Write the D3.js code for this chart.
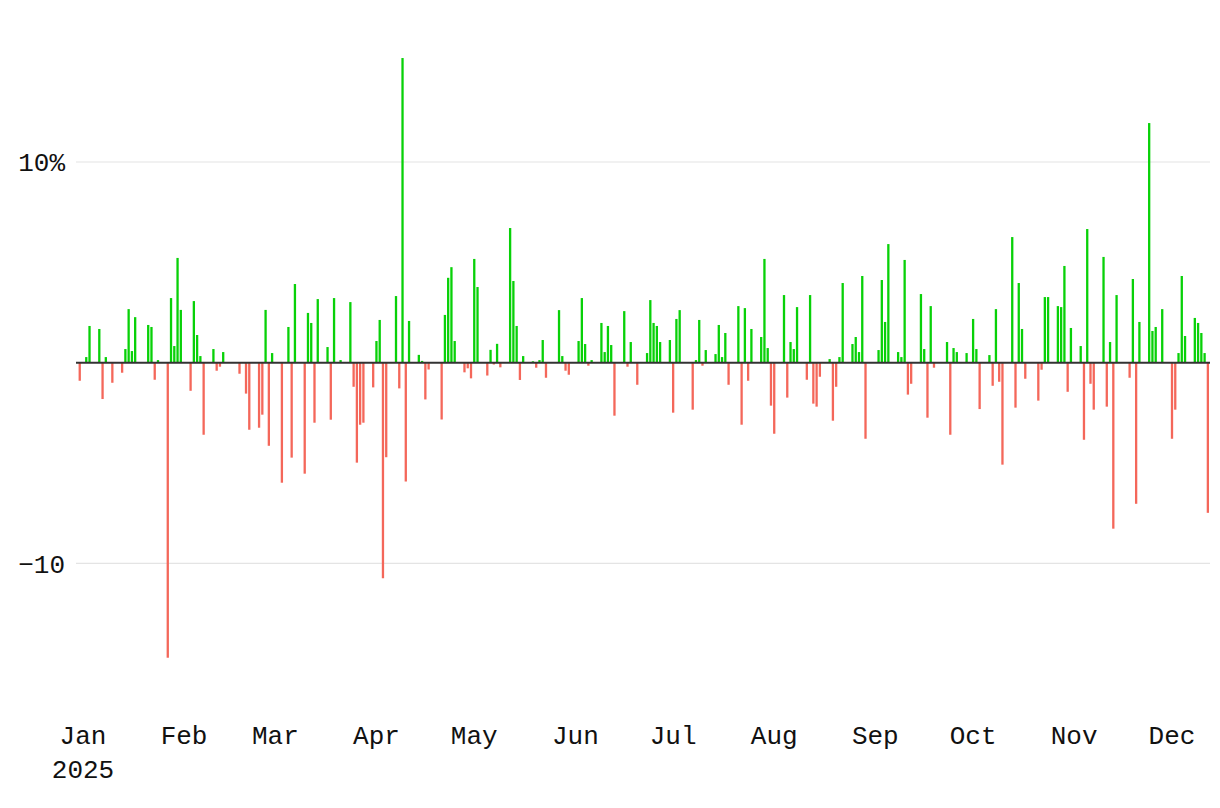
<!DOCTYPE html>
<html>
<head>
<meta charset="utf-8">
<script src="https://cdn.jsdelivr.net/npm/d3@7"></script>
<style>
  html, body { margin: 0; padding: 0; background: #ffffff; }
  svg { display: block; }
  text { font-family: "Liberation Mono", "DejaVu Sans Mono", monospace; fill: #111; }
</style>
</head>
<body>
<div id="chart"></div>
<script>
// ---- data ----
const dates = [
"2024-12-31","2025-01-02","2025-01-03","2025-01-06","2025-01-07","2025-01-08","2025-01-10",
"2025-01-13","2025-01-14","2025-01-15","2025-01-16","2025-01-17","2025-01-21","2025-01-22",
"2025-01-23","2025-01-24","2025-01-27","2025-01-28","2025-01-29","2025-01-30","2025-01-31",
"2025-02-03","2025-02-04","2025-02-05","2025-02-06","2025-02-07","2025-02-10","2025-02-11",
"2025-02-12","2025-02-13","2025-02-14","2025-02-18","2025-02-19","2025-02-20","2025-02-21",
"2025-02-24","2025-02-25","2025-02-26","2025-02-27","2025-02-28","2025-03-03","2025-03-04",
"2025-03-05","2025-03-06","2025-03-07","2025-03-10","2025-03-11","2025-03-12","2025-03-13",
"2025-03-14","2025-03-17","2025-03-18","2025-03-19","2025-03-20","2025-03-21","2025-03-24",
"2025-03-25","2025-03-26","2025-03-27","2025-03-28","2025-03-31","2025-04-01","2025-04-02",
"2025-04-03","2025-04-04","2025-04-07","2025-04-08","2025-04-09","2025-04-10","2025-04-11",
"2025-04-14","2025-04-15","2025-04-16","2025-04-17","2025-04-21","2025-04-22","2025-04-23",
"2025-04-24","2025-04-25","2025-04-28","2025-04-29","2025-04-30","2025-05-01","2025-05-02",
"2025-05-05","2025-05-06","2025-05-07","2025-05-08","2025-05-09","2025-05-12","2025-05-13",
"2025-05-14","2025-05-15","2025-05-16","2025-05-19","2025-05-20","2025-05-21","2025-05-22",
"2025-05-23","2025-05-27","2025-05-28","2025-05-29","2025-05-30","2025-06-02","2025-06-03",
"2025-06-04","2025-06-05","2025-06-06","2025-06-09","2025-06-10","2025-06-11","2025-06-12",
"2025-06-13","2025-06-16","2025-06-17","2025-06-18","2025-06-20","2025-06-23","2025-06-24",
"2025-06-25","2025-06-26","2025-06-27","2025-06-30","2025-07-01","2025-07-02","2025-07-03",
"2025-07-07","2025-07-08","2025-07-09","2025-07-10","2025-07-11","2025-07-14","2025-07-15",
"2025-07-16","2025-07-17","2025-07-18","2025-07-21","2025-07-22","2025-07-23","2025-07-24",
"2025-07-25","2025-07-28","2025-07-29","2025-07-30","2025-07-31","2025-08-01","2025-08-04",
"2025-08-05","2025-08-06","2025-08-07","2025-08-08","2025-08-11","2025-08-12","2025-08-13",
"2025-08-14","2025-08-15","2025-08-18","2025-08-19","2025-08-20","2025-08-21","2025-08-22",
"2025-08-25","2025-08-26","2025-08-27","2025-08-28","2025-08-29","2025-09-02","2025-09-03",
"2025-09-04","2025-09-05","2025-09-08","2025-09-09","2025-09-10","2025-09-11","2025-09-12",
"2025-09-15","2025-09-16","2025-09-17","2025-09-18","2025-09-19","2025-09-22","2025-09-23",
"2025-09-24","2025-09-25","2025-09-26","2025-09-29","2025-09-30","2025-10-01","2025-10-02",
"2025-10-03","2025-10-06","2025-10-07","2025-10-08","2025-10-09","2025-10-10","2025-10-13",
"2025-10-14","2025-10-15","2025-10-16","2025-10-17","2025-10-20","2025-10-21","2025-10-22",
"2025-10-23","2025-10-24","2025-10-27","2025-10-28","2025-10-29","2025-10-30","2025-10-31",
"2025-11-03","2025-11-04","2025-11-05","2025-11-06","2025-11-07","2025-11-10","2025-11-11",
"2025-11-12","2025-11-13","2025-11-14","2025-11-17","2025-11-18","2025-11-19","2025-11-20",
"2025-11-21","2025-11-24","2025-11-25","2025-11-26","2025-11-28","2025-12-01","2025-12-02",
"2025-12-03","2025-12-04","2025-12-05","2025-12-08","2025-12-09","2025-12-10","2025-12-11",
"2025-12-12"
];

const returnsPct = [
-0.9, 0.28, 1.83, 1.68, -1.81, 0.28, -1.0,
-0.5, 0.68, 2.67, 0.58, 2.27, 1.88, 1.78,
-0.85, 0.13, -14.7, 3.22, 0.83, 5.22, 2.63,
-1.4, 3.07, 1.38, 0.33, -3.59, 0.68, -0.4,
-0.2, 0.53, 0, -0.55, 0, -1.54, -3.34,
-3.24, -2.59, 2.63, -4.14, 0.48, -5.98, 0,
1.78, -4.73, 3.92, -5.53, 2.48, 1.98, -2.99,
3.17, 0.78, -2.84, 3.22, 0, 0.13, 3.02,
-1.2, -4.98, -3.09, -2.99, -1.23, 1.08, 2.13,
-10.74, -4.71, 3.32, -1.28, 15.18, -5.92, 2.08,
0.39, 0.09, -1.83, -0.34, -2.83, 2.38, 4.23,
4.76, 1.08, -0.48, -0.28, -0.78, 5.17, 3.77,
-0.64, 0.64, -0.09, 0.94, -0.23, 6.71, 4.07,
1.83, -0.86, 0.33, 0.07, -0.25, 0.13, 1.13,
-0.75, 2.62, 0.33, -0.40, -0.60, 1.08, 3.22,
0.93, -0.15, 0.13, 1.98, 0.53, 1.83, 0.88,
-2.64, 2.57, -0.2, 1.03, -1.1, 0.48, 3.12,
1.98, 1.83, 1.03, 1.13, -2.49, 2.18, 2.62,
-2.34, 0.13, 2.13, -0.15, 0.63, 0.43, 1.88,
0.28, 1.48, -1.1, 2.82, -3.09, 2.72, -0.9,
1.68, 1.28, 5.17, 0.73, -2.14, -3.54, 3.37,
-1.74, 1.03, 0.68, 2.77, -0.85, 3.37, -2.04,
-2.19, -0.70, 0.18, -2.89, -1.2, 0.28, 3.97,
0.93, 1.28, 0.53, 4.32, -3.79, 0.63, 4.12,
2.03, 5.91, 0.53, 0.28, 5.12, -1.59, -1.05,
3.42, 0.68, -2.74, 2.82, -0.25, 0, 1.03,
-3.59, 0.73, 0.53, 0.48, 0, 2.18, 0.68,
-2.31, 0.38, -1.15, 2.67, -0.95, -5.08, 6.26,
-2.24, 3.97, 1.68, -0.8, 0, -1.89, -0.35,
3.27, 3.27, 2.82, 2.77, 4.82, -1.45, 1.73,
0.83, -3.84, 6.66, -1.05, -2.34, 5.27, -2.19,
1.03, -8.27, 3.37, 0, -0.75, 4.17, -7.03,
2.03, 11.94, 1.58, 1.78, 2.67, -3.79, -2.34,
0.48, 4.32, 1.33, 2.23, 1.98, 1.48, 0.48,
-7.48
];

const yTickValues = [-10, 10];
const yTickLabels = ["\u221210", "10%"];
const monthNames = ["Jan","Feb","Mar","Apr","May","Jun","Jul","Aug","Sep","Oct","Nov","Dec"];

// ---- chart ----
const W = 1220, H = 808;
const parse = d3.utcParse("%Y-%m-%d");
const data = dates.map((d, i) => ({ date: parse(d), value: returnsPct[i] }));

const svg = d3.select("#chart").append("svg")
  .attr("width", W).attr("height", H).attr("viewBox", `0 0 ${W} ${H}`);

const x = d3.scaleUtc()
  .domain([Date.UTC(2025, 0, 1), Date.UTC(2025, 11, 1)])
  .range([83, 1172]);

const y = d3.scaleLinear()
  .domain([-16, 16])
  .range([362.7 + 16 * 20.07, 362.7 - 16 * 20.07]);

const plotLeft = 76, plotRight = 1210;

// grid lines
svg.append("g").selectAll("line").data(yTickValues).join("line")
  .attr("x1", plotLeft).attr("x2", plotRight)
  .attr("y1", d => y(d)).attr("y2", d => y(d))
  .attr("stroke", "#e4e4e4").attr("stroke-width", 1.2);

// y labels
svg.append("g").selectAll("text").data(yTickValues).join("text")
  .attr("x", 65).attr("y", d => y(d))
  .attr("dy", "0.36em")
  .attr("text-anchor", "end")
  .attr("font-size", 26)
  .text((d, i) => yTickLabels[i]);

// bars
const barW = 2.3;
svg.append("g").selectAll("rect").data(data).join("rect")
  .attr("x", d => x(d.date) - barW / 2)
  .attr("width", barW)
  .attr("y", d => Math.min(y(d.value), y(0)))
  .attr("height", d => Math.abs(y(d.value) - y(0)))
  .attr("fill", d => d.value >= 0 ? "#08d108" : "#f4675a");

// zero line
svg.append("line")
  .attr("x1", plotLeft).attr("x2", plotRight)
  .attr("y1", y(0)).attr("y2", y(0))
  .attr("stroke", "#333").attr("stroke-width", 2);

// x axis labels
const months = d3.utcMonth.range(Date.UTC(2025, 0, 1), Date.UTC(2025, 11, 2));
const xl = svg.append("g").selectAll("text").data(months).join("text")
  .attr("x", d => x(d))
  .attr("y", 744)
  .attr("text-anchor", "middle")
  .attr("font-size", 26);
xl.append("tspan").attr("x", d => x(d)).text(d => monthNames[d.getUTCMonth()]);
xl.filter(d => d.getUTCMonth() === 0)
  .append("tspan").attr("x", d => x(d)).attr("dy", 34).text(d => d.getUTCFullYear());
</script>
</body>
</html>
